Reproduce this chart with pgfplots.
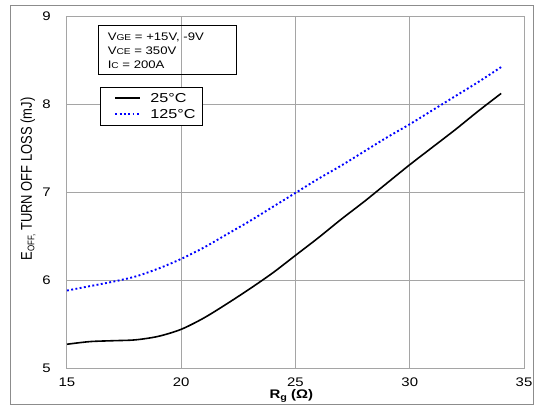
\documentclass[border=0pt]{standalone}
\usepackage{fontspec}
\setmainfont{Liberation Sans}
\usepackage{pgfplots}
\pgfplotsset{compat=1.18}
\definecolor{gridgray}{RGB}{165,165,165}
\definecolor{framegray}{RGB}{140,140,140}
\definecolor{dotblue}{RGB}{0,0,255}

\pgfplotstableread{
x y
15 5.27
16 5.30
17 5.31
18 5.32
19 5.36
20 5.44
21 5.57
22 5.73
23 5.90
24 6.08
25 6.28
26 6.48
27 6.69
28 6.89
29 7.10
30 7.31
31 7.51
32 7.71
33 7.92
34 8.12
}\tablecold

\pgfplotstableread{
x y
15 5.88
16 5.93
17 5.98
18 6.04
19 6.13
20 6.24
21 6.37
22 6.52
23 6.67
24 6.83
25 6.99
26 7.15
27 7.30
28 7.46
29 7.62
30 7.77
31 7.93
32 8.09
33 8.25
34 8.42
}\tablehot

\begin{document}
\begin{tikzpicture}
\path[use as bounding box] (-67bp,-38bp) rectangle (477bp,368bp);
\draw[framegray, line width=1bp] (-56bp,-36bp) rectangle (466bp,362bp);
\begin{axis}[
  at={(0bp,0bp)}, anchor=south west,
  scale only axis, width=457bp, height=352bp,
  xmin=15, xmax=35, ymin=5, ymax=9,
  xtick={15,20,25,30,35}, ytick={5,6,7,8,9},
  grid=major, major grid style={gridgray, line width=1bp},
  axis line style={gridgray, line width=1bp},
  major tick length=0pt,
  /pgf/number format/assume math mode=true,
  tick label style={font=\fontsize{12.5}{14}\selectfont, xscale=1.2},
  xticklabel style={yshift=-6bp},
  yticklabel style={xshift=-10bp},
  xlabel={\textbf{R\raisebox{-0.2ex}{\fontsize{9}{9}\selectfont g} (Ω)}},
  xlabel style={at={(axis description cs:0.491,0)}, anchor=center, yshift=-28bp, font=\fontsize{12.5}{14}\selectfont, xscale=1.2},
  ylabel={E\raisebox{-0.3ex}{\fontsize{8}{8}\selectfont OFF,} TURN OFF LOSS (mJ)},
  ylabel style={at={(axis description cs:-0.0853,0.537)}, anchor=center, font=\fontsize{13}{15}\selectfont, yscale=1.2},
  legend cell align=left,
  legend image code/.code={\path (0bp,0bp); \draw[#1] (9bp,0bp) -- (34bp,0bp);},
  legend style={at={(axis description cs:0.0722,0.798)}, anchor=north west,
    draw=black, line width=0.8bp, fill=white,
    inner xsep=5bp, inner ysep=3.5bp, row sep=1.5bp,
    font=\fontsize{13}{15}\selectfont,
    /tikz/every odd column/.append style={column sep=7bp},
    nodes={inner sep=2bp, text height=9.5bp, text depth=1bp}},
]
\addplot[black, line width=1.6bp, smooth] table[x=x, y=y] {\tablecold};
\addlegendentry{\scalebox{1.25}[1]{25°C}}
\addplot[dotblue, line width=1.9bp, dash pattern=on 1.9bp off 2.4bp, smooth] table[x=x, y=y] {\tablehot};
\addlegendentry{\scalebox{1.25}[1]{125°C}}
\draw[black, line width=0.8bp] (axis description cs:0.0678,0.974) rectangle (axis description cs:0.3698,0.835);
\node[anchor=north west, inner sep=0pt, align=left, xscale=1.2,
  font=\fontsize{11}{14.5}\selectfont, xshift=8bp, yshift=-7bp]
  at (axis description cs:0.0678,0.974)
  {V{\fontsize{8.5}{8.5}\selectfont GE} = +15V, -9V\\
   V{\fontsize{8.5}{8.5}\selectfont CE} = 350V\\
   I{\fontsize{8.5}{8.5}\selectfont C} = 200A};
\end{axis}
\end{tikzpicture}
\end{document}
